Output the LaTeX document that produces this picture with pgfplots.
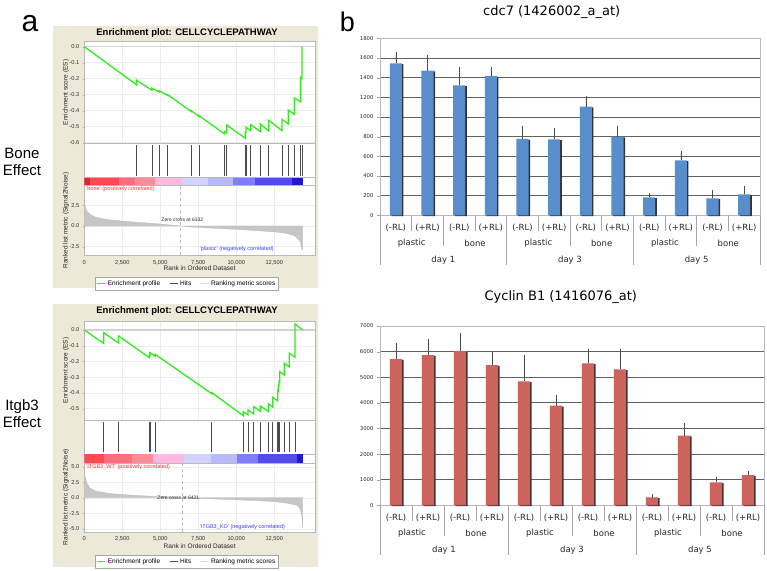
\documentclass[border=0pt]{standalone}
\usepackage{fontspec}
\setmainfont{Liberation Sans}
\newfontfamily\dejavu{DejaVu Sans}
\usepackage{pgfplots}
\pgfplotsset{compat=1.18}
\newcommand{\fs}[1]{\fontsize{#1}{#1}\selectfont}
\definecolor{beige}{RGB}{236,233,216}
\definecolor{esgreen}{RGB}{50,235,30}
\definecolor{cb1}{RGB}{235,30,40}
\definecolor{cb2}{RGB}{255,75,80}
\definecolor{cb3}{RGB}{255,110,125}
\definecolor{cb4}{RGB}{255,140,150}
\definecolor{cb5}{RGB}{255,185,225}
\definecolor{cb6}{RGB}{210,212,255}
\definecolor{cb7}{RGB}{185,185,255}
\definecolor{cb8}{RGB}{125,125,255}
\definecolor{cb9}{RGB}{85,75,235}
\definecolor{cb10}{RGB}{35,25,200}
\definecolor{posred}{RGB}{255,50,50}
\definecolor{negblue}{RGB}{60,60,255}
\definecolor{barblue}{RGB}{88,142,204}
\definecolor{barred}{RGB}{204,99,93}
\newcommand{\cbar}[3]{\addplot[fill=#1, draw=none, forget plot] coordinates {(#2,1) (#3,1)} \closedcycle;}
\pgfplotsset{
  shortline/.style={legend image code/.code={\draw[#1] (0pt,0pt) -- (8pt,0pt);}},
  gsea/.style={scale only axis, anchor=south west, width=230.7pt, xmin=0, xmax=15180,
    axis background/.style={fill=white}, axis line style={gray!55},
    tick align=outside, major tick length=1.5pt, tick style={gray!70},
    xtick pos=left, ytick pos=left, scaled ticks=false,
    ticklabel style={font=\fs{5.7}, black!80},
    /pgf/number format/assume math mode=true,
    label style={font=\fs{6.5}, black!85},
    grid style={gray!15}, clip mode=individual,
    y label style={at={(axis description cs:-0.08,0.5)}, anchor=center}},
  gseaempty/.style={gsea, xtick=\empty, ytick=\empty},
  barchart/.style={scale only axis, anchor=south west, xmin=0.5, xmax=12.5, ymin=0, xtick=\empty,
    ymajorgrids, grid style={black!62, line width=0.75pt},
    axis line style={gray!55, line width=0.6pt},
    tick align=outside, major tick length=3pt, ytick style={gray!70}, ytick pos=left,
    yticklabel style={font=\dejavu\fs{5.3}, black!85},
    extra y tick style={grid=none},
    /pgf/number format/assume math mode=true, /pgf/number format/1000 sep={},
    clip mode=individual},
  shadowbar/.style={ybar, bar width=0.38, bar shift=1.6pt, fill=black!80, draw=none, yshift=-0.8pt},
  mainbar/.style={ybar, bar width=0.38, bar shift=0pt, fill=#1, draw=none,
    error bars/.cd, y dir=plus, y explicit,
    error bar style={black!70, line width=0.6pt},
    error mark options={black!70, line width=0.6pt, mark size=1.8pt}},
  gsealegend/.style={shortline, legend style={at={(0.445,#1)}, anchor=north, legend columns=3,
    font=\fs{6.5}, draw=gray!70, fill=white, inner sep=1.2pt,
    /tikz/every even column/.append style={column sep=7pt}}}
}
\newcommand{\catlabels}{%
  \pgfplotsinvokeforeach{1,3,5,7,9,11}{\node[font=\dejavu\fs{8.5}, black!85] at ([yshift=-12.3pt]axis cs:##1,0) {(-RL)};}
  \pgfplotsinvokeforeach{2,4,6,8,10,12}{\node[font=\dejavu\fs{8.5}, black!85] at ([yshift=-12.3pt]axis cs:##1,0) {(+RL)};}
  \pgfplotsinvokeforeach{1.5,5.5,9.5}{\node[font=\dejavu\fs{8.5}, black!85] at ([yshift=-28.3pt]axis cs:##1,0) {plastic};}
  \pgfplotsinvokeforeach{3.5,7.5,11.5}{\node[font=\dejavu\fs{8.5}, black!85] at ([yshift=-28.3pt]axis cs:##1,0) {bone};}
  \node[font=\dejavu\fs{8.5}, black!85] at ([yshift=-45.2pt]axis cs:2.5,0) {day 1};
  \node[font=\dejavu\fs{8.5}, black!85] at ([yshift=-45.2pt]axis cs:6.5,0) {day 3};
  \node[font=\dejavu\fs{8.5}, black!85] at ([yshift=-45.2pt]axis cs:10.5,0) {day 5};
  \pgfplotsinvokeforeach{1.5,3.5,5.5,7.5,9.5,11.5}{\draw[gray!70, line width=0.5pt] (axis cs:##1,0) -- ([yshift=-15.5pt]axis cs:##1,0);}
  \pgfplotsinvokeforeach{2.5,6.5,10.5}{\draw[gray!70, line width=0.5pt] (axis cs:##1,0) -- ([yshift=-31pt]axis cs:##1,0);}
  \pgfplotsinvokeforeach{0.5,4.5,8.5,12.5}{\draw[gray!70, line width=0.5pt] (axis cs:##1,0) -- ([yshift=-50pt]axis cs:##1,0);}
}
\begin{document}
\begin{tikzpicture}[x=1pt,y=1pt]
\path[use as bounding box] (0,0) rectangle (767,570);
\fill[beige] (53,282) rectangle (318,544);
\fill[beige] (53,3) rectangle (318,266);
% panel letters and side labels
\node[font=\fs{30}, anchor=base] at (30,538.3) {a};
\node[font=\fs{27}, anchor=base] at (347.5,538.3) {b};
\node[font=\fs{15}, align=center, inner sep=0pt] at (22,408) {Bone\\[1.5pt]Effect};
\node[font=\fs{15}, align=center, inner sep=0pt] at (22,156.5) {Itgb3\\[1.5pt]Effect};
\node[font=\bfseries\fs{9.5}] at (187,537) {Enrichment plot: CELLCYCLEPATHWAY};
\node[font=\bfseries\fs{9.5}] at (187,259) {Enrichment plot: CELLCYCLEPATHWAY};
\node[font=\dejavu\fs{13}] at (551.7,557.5) {cdc7 (1426002\_a\_at)};
\node[font=\dejavu\fs{13}] at (560.8,272.7) {Cyclin B1 (1416076\_at)};

% ===== Top GSEA =====
\begin{axis}[gsea, at={(84.3pt,426.7pt)}, height=101.6pt, ymin=-0.604, ymax=0.031,
  ytick={-0.6,-0.5,-0.4,-0.3,-0.2,-0.1,0}, xtick={0,2500,5000,7500,10000,12500}, xticklabels={},
  yticklabel style={/pgf/number format/.cd, fixed, fixed zerofill, precision=1},
  grid=major, ylabel={Enrichment score (ES)}]
\addplot[gray!35, line width=1.3pt, forget plot] coordinates {(0,0) (15180,0)};
\addplot[esgreen, line width=1.3pt, forget plot] coordinates {
(0,0) (3416,-0.237) (3416,-0.208) (4446,-0.272) (4446,-0.26) (4928,-0.282) (4928,-0.276)
(5475,-0.305) (5475,-0.30) (7030,-0.405) (7030,-0.40) (7555,-0.437) (7555,-0.432)
(9220,-0.545) (9220,-0.53) (9373,-0.54) (9373,-0.49) (10600,-0.573) (10600,-0.535)
(10643,-0.537) (10643,-0.504) (10950,-0.525) (10950,-0.4875) (11585,-0.531) (11585,-0.483)
(12133,-0.527) (12133,-0.46) (13009,-0.525) (13009,-0.454) (13425,-0.483) (13425,-0.396)
(13819,-0.423) (13819,-0.321) (14235,-0.344) (14235,-0.192) (14323,-0.198) (14323,0.0)};
\end{axis}
\begin{axis}[gseaempty, at={(84.3pt,392.3pt)}, height=34.4pt, ymin=-0.05, ymax=1.05]
\addplot[ycomb, gray!60!black, line width=0.6pt, mark=none, forget plot] coordinates {
(3416,1) (4446,1) (4928,1) (5475,1) (7030,1) (7555,1) (9220,1) (9373,1) (10600,1) (10643,1)
(10950,1) (11585,1) (12133,1) (13009,1) (13425,1) (13819,1) (14235,1) (14323,1)};
\end{axis}
\begin{axis}[gseaempty, at={(84.3pt,384.3pt)}, height=8pt, ymin=0, ymax=1]
\cbar{cb1}{0}{394}\cbar{cb2}{394}{2256}\cbar{cb3}{2256}{3307}\cbar{cb4}{3307}{4665}
\cbar{cb5}{4665}{6461}\cbar{cb6}{6461}{8168}\cbar{cb7}{8168}{9810}\cbar{cb8}{9810}{11234}
\cbar{cb9}{11234}{13645}\cbar{cb10}{13645}{14370}
\end{axis}
\begin{axis}[gsea, at={(84.3pt,315pt)}, height=69.3pt, ymin=-3.5, ymax=4.85,
  ytick={-2.5,0,2.5}, xtick={0,2500,5000,7500,10000,12500},
  xticklabels={0,{2,500},{5,000},{7,500},{10,000},{12,500}},
  yticklabel style={/pgf/number format/.cd, fixed, fixed zerofill, precision=1},
  grid=major, xlabel={Rank in Ordered Dataset}, ylabel={Ranked list metric (Signal2Noise)},
  x label style={at={(axis description cs:0.5,-0.183)}, anchor=center},
  gsealegend=-0.32]
\addplot[fill=gray!45, draw=gray!55, line width=0.3pt, forget plot] coordinates {
(0,2.8) (150,1.8) (400,1.35) (750,1.05) (1600,0.75) (2700,0.55) (3800,0.4) (5100,0.22)
(6332,0) (7100,-0.12) (8200,-0.25) (9300,-0.35) (10400,-0.45) (11500,-0.58) (12550,-0.72)
(13400,-0.92) (13850,-1.2) (14200,-1.8) (14330,-2.9) (14370,-2.9)} \closedcycle;
\addplot[gray!55, dashed, line width=0.4pt, forget plot] coordinates {(6332,-3.5) (6332,4.85)};
\node[font=\fs{5}, black!85] at (axis cs:6450,0.75) {Zero cross at 6332};
\node[font=\fs{5.5}, posred, anchor=west, inner sep=0pt] at (axis cs:110,4.45) {'bone' (positively correlated)};
\node[font=\fs{5.5}, negblue, inner sep=0pt] at (axis cs:10030,-2.8) {'plastic' (negatively correlated)};
\addlegendimage{draw=esgreen, line width=1.3pt}\addlegendentry{Enrichment profile}
\addlegendimage{draw=gray!60!black, line width=0.8pt}\addlegendentry{Hits}
\addlegendimage{draw=gray!30, line width=0.8pt}\addlegendentry{Ranking metric scores}
\end{axis}

% ===== Bottom GSEA =====
\begin{axis}[gsea, at={(84.3pt,150pt)}, height=99.3pt, ymin=-0.572, ymax=0.059,
  ytick={-0.5,-0.4,-0.3,-0.2,-0.1,0}, xtick={0,2500,5000,7500,10000,12500}, xticklabels={},
  yticklabel style={/pgf/number format/.cd, fixed, fixed zerofill, precision=1},
  grid=major, ylabel={Enrichment score (ES)}]
\addplot[gray!35, line width=1.3pt, forget plot] coordinates {(0,0) (15180,0)};
\addplot[esgreen, line width=1.3pt, forget plot] coordinates {
(0,0) (1270,-0.085) (1270,-0.017) (2256,-0.083) (2256,-0.038) (4271,-0.175) (4271,-0.16)
(4315,-0.163) (4315,-0.144) (4665,-0.167) (4665,-0.155) (8387,-0.405) (8387,-0.398)
(10468,-0.545) (10468,-0.519) (10775,-0.54) (10775,-0.508) (11147,-0.533) (11147,-0.487)
(11585,-0.516) (11585,-0.483) (12111,-0.518) (12111,-0.47) (12395,-0.49) (12395,-0.428)
(12724,-0.45) (12724,-0.386) (12768,-0.389) (12768,-0.35) (12812,-0.353) (12812,-0.328)
(12856,-0.331) (12856,-0.265) (13163,-0.286) (13163,-0.212) (13491,-0.234) (13491,-0.148)
(13863,-0.173) (13863,0.038) (14370,0.0)};
\end{axis}
\begin{axis}[gseaempty, at={(84.3pt,116pt)}, height=34pt, ymin=-0.05, ymax=1.05]
\addplot[ycomb, gray!60!black, line width=0.6pt, mark=none, forget plot] coordinates {
(1270,1) (2256,1) (4271,1) (4315,1) (4665,1) (8387,1) (10468,1) (10775,1) (11147,1) (11585,1)
(12111,1) (12395,1) (12724,1) (12768,1) (12812,1) (12856,1) (13163,1) (13491,1) (13863,1)};
\end{axis}
\begin{axis}[gseaempty, at={(84.3pt,107.3pt)}, height=8.7pt, ymin=0, ymax=1]
\cbar{cb2}{0}{1270}\cbar{cb3}{1270}{3132}\cbar{cb4}{3132}{4490}\cbar{cb5}{4490}{6592}
\cbar{cb6}{6592}{8344}\cbar{cb7}{8344}{10074}\cbar{cb8}{10074}{11410}\cbar{cb9}{11410}{13973}
\cbar{cb10}{13973}{14370}
\end{axis}
\begin{axis}[gsea, at={(84.3pt,38.3pt)}, height=69pt, ymin=-5.48, ymax=5.65,
  ytick={-5,-2.5,0,2.5,5}, xtick={0,2500,5000,7500,10000,12500},
  xticklabels={0,{2,500},{5,000},{7,500},{10,000},{12,500}},
  yticklabel style={/pgf/number format/.cd, fixed, fixed zerofill, precision=1},
  grid=major, xlabel={Rank in Ordered Dataset}, ylabel={Ranked list metric (Signal2Noise)},
  x label style={at={(axis description cs:0.5,-0.207)}, anchor=center},
  gsealegend=-0.338]
\addplot[fill=gray!45, draw=gray!55, line width=0.3pt, forget plot] coordinates {
(0,3.9) (175,2.3) (394,1.5) (723,1.1) (1600,0.7) (2700,0.48) (3800,0.32) (5100,0.16)
(6421,0) (8169,-0.16) (9264,-0.27) (10359,-0.37) (11454,-0.48) (12549,-0.64) (13425,-0.9)
(13973,-1.2) (14191,-1.7) (14323,-3.0) (14370,-4.9)} \closedcycle;
\addplot[gray!55, dashed, line width=0.4pt, forget plot] coordinates {(6421,-5.48) (6421,5.65)};
\node[font=\fs{5}, black!85] at (axis cs:6185,0) {Zero cross at 6421};
\node[font=\fs{5.5}, posred, anchor=west, inner sep=0pt] at (axis cs:110,5.0) {'ITGB3\_WT' (positively correlated)};
\node[font=\fs{5.5}, negblue, inner sep=0pt] at (axis cs:10397,-4.77) {'ITGB3\_KO' (negatively correlated)};
\addlegendimage{draw=esgreen, line width=1.3pt}\addlegendentry{Enrichment profile}
\addlegendimage{draw=gray!60!black, line width=0.8pt}\addlegendentry{Hits}
\addlegendimage{draw=gray!30, line width=0.8pt}\addlegendentry{Ranking metric scores}
\end{axis}

% ===== cdc7 =====
\begin{axis}[barchart, at={(380pt,354.7pt)}, width=380pt, height=177pt, ymax=1800,
  ytick={0,200,...,1600}, extra y ticks={1800}]
\addplot[forget plot, shadowbar] coordinates {(1,1546) (2,1471) (3,1322) (4,1417) (5,776) (6,773)
(7,1105) (8,800) (9,183) (10,559) (11,173) (12,214)};
\addplot[forget plot, mainbar=barblue] coordinates {
(1,1546) +- (0,101) (2,1471) +- (0,136) (3,1322) +- (0,163) (4,1417) +- (0,68)
(5,776) +- (0,109) (6,773) +- (0,95) (7,1105) +- (0,85) (8,800) +- (0,92)
(9,183) +- (0,27) (10,559) +- (0,72) (11,173) +- (0,68) (12,214) +- (0,61)};
\catlabels
\end{axis}

% ===== Cyclin B1 =====
\begin{axis}[barchart, at={(380pt,64.7pt)}, width=384pt, height=179.3pt, ymax=7000,
  ytick={0,1000,...,6000}, extra y ticks={7000}]
\addplot[forget plot, shadowbar] coordinates {(1,5709) (2,5865) (3,6021) (4,5475) (5,4837) (6,3888)
(7,5540) (8,5306) (9,312) (10,2718) (11,897) (12,1183)};
\addplot[forget plot, mainbar=barred] coordinates {
(1,5709) +- (0,546) (2,5865) +- (0,546) (3,6021) +- (0,624) (4,5475) +- (0,442)
(5,4837) +- (0,963) (6,3888) +- (0,364) (7,5540) +- (0,494) (8,5306) +- (0,728)
(9,312) +- (0,52) (10,2718) +- (0,442) (11,897) +- (0,156) (12,1183) +- (0,104)};
\catlabels
\end{axis}
\end{tikzpicture}
\end{document}
